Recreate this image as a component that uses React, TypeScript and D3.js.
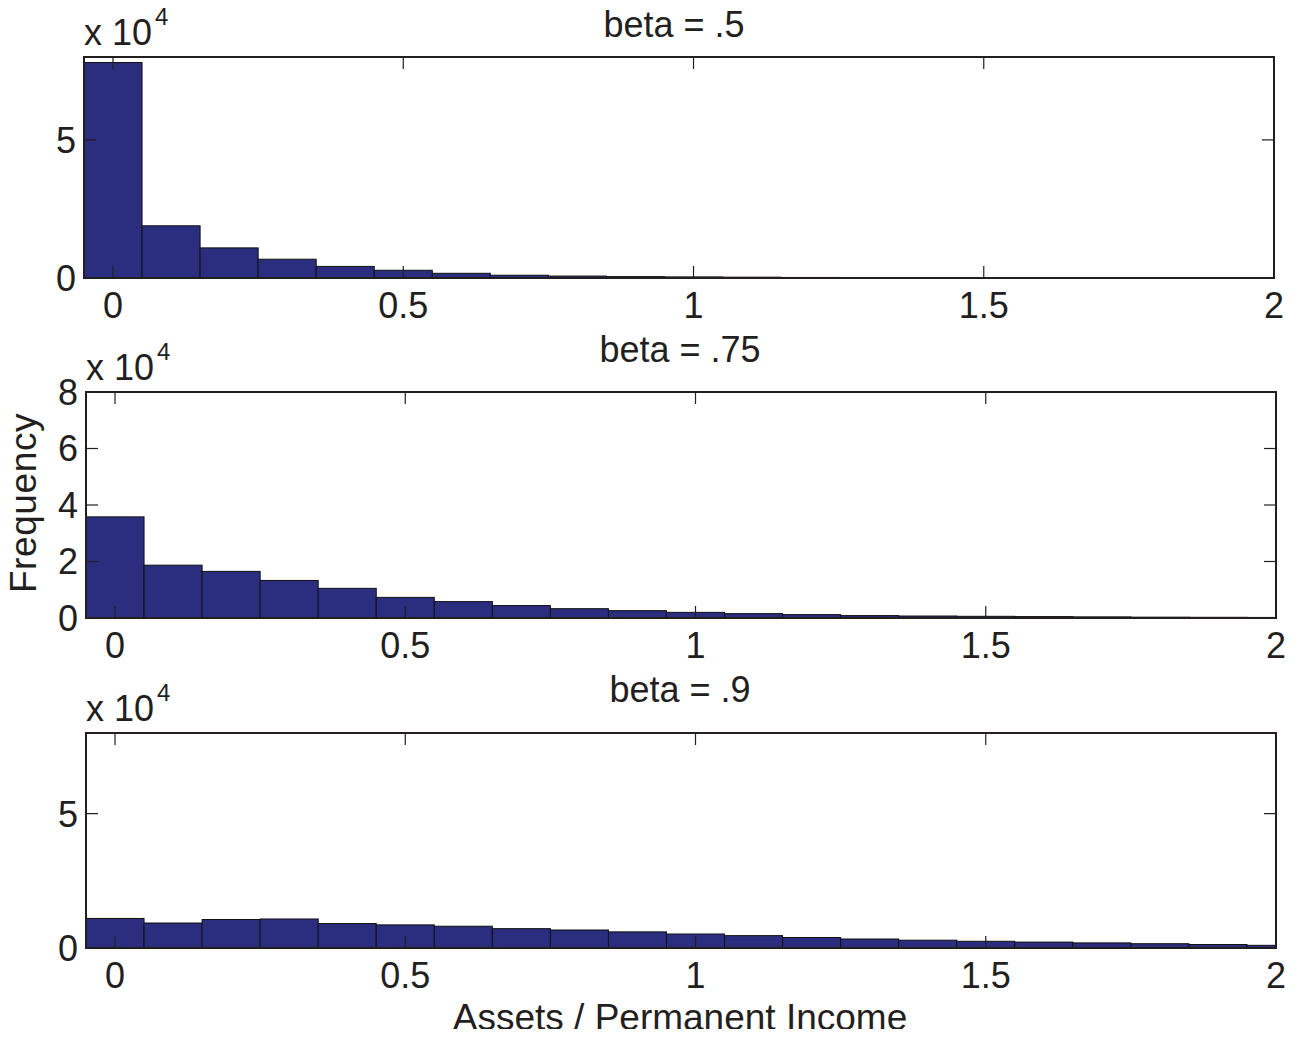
import * as d3 from 'd3';

// bin centres of the histograms (assets / permanent income)
const binCenters = [0, 0.1, 0.2, 0.3, 0.4, 0.5, 0.6, 0.7, 0.8, 0.9, 1.0, 1.1, 1.2, 1.3, 1.4, 1.5, 1.6, 1.7, 1.8, 1.9, 2.0];

// counts per bin
const countsBeta50 = [78000, 18900, 10900, 6800, 4200, 2800, 1700, 1000, 700, 500, 400, 300, 200, 150, 100, 100, 80, 60, 50, 40, 30];
const countsBeta75 = [35800, 18700, 16500, 13300, 10500, 7300, 5800, 4400, 3300, 2600, 2000, 1550, 1200, 850, 700, 600, 500, 400, 300, 250, 200];
const countsBeta90 = [11000, 9300, 10600, 10800, 9100, 8600, 8100, 7200, 6700, 6000, 5200, 4600, 3900, 3350, 2900, 2500, 2200, 1900, 1600, 1300, 1000];

const xTicks = [0, 0.5, 1, 1.5, 2];
const yTicksSparse = [0, 50000];
const yTicksDense = [0, 20000, 40000, 60000, 80000];

const titles = ['beta = .5', 'beta = .75', 'beta = .9'];

const W = 1299;
const H = 1037;
const binWidth = 0.1;
const ink = '#231f20';
const barFill = '#2b2d7f';
const font = '"Liberation Sans", Arial, Helvetica, sans-serif';

const panels = [
    { counts: countsBeta50, yTicks: yTicksSparse, title: titles[0], left: 84, right: 1274, top: 57, bottom: 278, titleY: 37, titleX: 674 },
    { counts: countsBeta75, yTicks: yTicksDense, title: titles[1], left: 86, right: 1276, top: 392, bottom: 618, titleY: 362, titleX: 680 },
    { counts: countsBeta90, yTicks: yTicksSparse, title: titles[2], left: 86, right: 1276, top: 733, bottom: 948, titleY: 702, titleX: 680 }
];

const Panel = ({ p, i }: any) => {
    const x = d3.scaleLinear().domain([-0.05, 2]).range([p.left, p.right]);
    const y = d3.scaleLinear().domain([0, 80000]).range([p.bottom, p.top]);
    const tick = 12;
    const clipId = `clip-${i}`;

    return (
        <g>
            <defs>
                <clipPath id={clipId}>
                    <rect x={p.left} y={p.top} width={p.right - p.left} height={p.bottom - p.top} />
                </clipPath>
            </defs>
            <g clipPath={`url(#${clipId})`}>
                {binCenters.map((c, k) => (
                    <rect key={k}
                        x={x(c - binWidth / 2)}
                        y={y(p.counts[k])}
                        width={x(c + binWidth / 2) - x(c - binWidth / 2)}
                        height={y(0) - y(p.counts[k])}
                        fill={barFill}
                        stroke="#111"
                        strokeWidth={1} />
                ))}
            </g>
            {/* ticks, pointing inwards on all four sides */}
            {xTicks.map(t => (
                <g key={'x' + t}>
                    <line x1={x(t)} x2={x(t)} y1={p.bottom} y2={p.bottom - tick} stroke={ink} strokeWidth={1.2} />
                    <line x1={x(t)} x2={x(t)} y1={p.top} y2={p.top + tick} stroke={ink} strokeWidth={1.2} />
                    <text x={x(t)} y={p.bottom + 40} textAnchor="middle" fontSize={36} fill={ink}>{d3.format('~g')(t)}</text>
                </g>
            ))}
            {p.yTicks.map((t: number) => (
                <g key={'y' + t}>
                    <line x1={p.left} x2={p.left + tick} y1={y(t)} y2={y(t)} stroke={ink} strokeWidth={1.2} />
                    <line x1={p.right} x2={p.right - tick} y1={y(t)} y2={y(t)} stroke={ink} strokeWidth={1.2} />
                    <text x={p.left - 8} y={y(t)} dy="0.36em" textAnchor="end" fontSize={36} fill={ink}>{t / 10000}</text>
                </g>
            ))}
            <rect x={p.left} y={p.top} width={p.right - p.left} height={p.bottom - p.top} fill="none" stroke={ink} strokeWidth={2} />
            <text x={p.left} y={p.top - 12} fontSize={36} fill={ink}>x 10</text>
            <text x={p.left + 71} y={p.top - 32} fontSize={24} fill={ink}>4</text>
            <text x={p.titleX} y={p.titleY} textAnchor="middle" fontSize={36} fill={ink}>{p.title}</text>
        </g>
    );
};

export default function App() {
    return (
        <svg width={W} height={H} style={{ display: 'block', margin: '-8px', background: '#fff' }} fontFamily={font}>
            <rect width={W} height={H} fill="#fff" />
            {panels.map((p, i) => <Panel key={i} p={p} i={i} />)}
            <text transform="translate(36,503) rotate(-90)" textAnchor="middle" fontSize={37} letterSpacing={0.6} fill={ink}>Frequency</text>
            <text x={680} y={1030} textAnchor="middle" fontSize={37} fill={ink}>Assets / Permanent Income</text>
        </svg>
    );
}
